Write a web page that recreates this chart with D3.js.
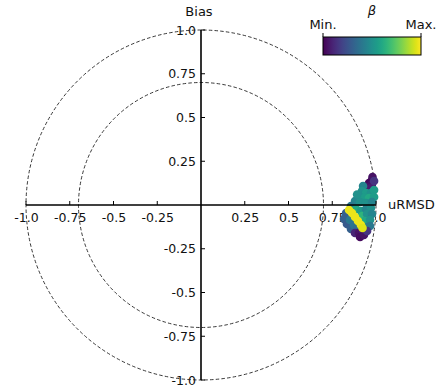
<!DOCTYPE html>
<html>
<head>
<meta charset="utf-8">
<script src="https://cdn.jsdelivr.net/npm/d3@7"></script>
<style>
  html, body { margin: 0; padding: 0; background: #fff; }
  svg { display: block; font-family: "DejaVu Sans", sans-serif; }
</style>
</head>
<body>
<svg id="chart" width="440" height="390"></svg>
<script>
// Target diagram: unbiased RMSD (x) against bias (y), coloured by beta
const xTicks = [-1.0, -0.75, -0.5, -0.25, 0.25, 0.5, 0.75, 1.0];
const yTicks = [-1.0, -0.75, -0.5, -0.25, 0.25, 0.5, 0.75, 1.0];
const xTickLabels = ["-1.0", "-0.75", "-0.5", "-0.25", "0.25", "0.5", "0.75", "1.0"];
const yTickLabels = ["-1.0", "-0.75", "-0.5", "-0.25", "0.25", "0.5", "0.75", "1.0"];
const rings = [1.0, 0.7];
const colorbarLabels = ["Min.", "Max."];

// One entry per model run: normalised uRMSD, normalised bias, beta (0 = min, 1 = max)
const uRMSD = [
  0.980, 0.977, 0.960, 0.977, 0.949, 0.971, 0.989,
  0.926, 0.920, 0.943, 0.971, 0.989, 0.903, 0.931, 0.960, 0.989,
  0.880, 0.909, 0.943, 0.977, 0.857, 0.892,
  0.829, 0.817, 0.834, 0.857,
  0.886, 0.914, 0.943, 0.971, 0.920, 0.949, 0.977, 0.937, 0.966, 0.943, 0.966,
  0.851, 0.874, 0.891,
  0.880, 0.903, 0.926, 0.909, 0.931, 0.949,
  0.846, 0.863, 0.880, 0.897, 0.914, 0.923
];
const bias = [
  0.160, 0.143, 0.126, 0.120, 0.103, 0.097, 0.137,
  0.109, 0.080, 0.069, 0.069, 0.086, 0.051, 0.040, 0.040, 0.046,
  0.023, 0.017, 0.011, 0.017, -0.006, 0.060,
  -0.046, -0.080, -0.109, -0.137,
  -0.023, -0.034, -0.023, -0.017, -0.063, -0.051, -0.051, -0.091, -0.086, -0.126, -0.120,
  -0.086, -0.114, -0.137,
  -0.160, -0.160, -0.149, -0.183, -0.171, -0.149,
  -0.029, -0.046, -0.069, -0.091, -0.114, -0.131
];
const beta = [
  0.05, 0.05, 0.02, 0.05, 0.05, 0.08, 0.15,
  0.45, 0.50, 0.55, 0.50, 0.55, 0.50, 0.55, 0.60, 0.55,
  0.45, 0.50, 0.50, 0.45, 0.40, 0.50,
  0.30, 0.30, 0.28, 0.30,
  0.60, 0.55, 0.45, 0.50, 0.65, 0.50, 0.45, 0.60, 0.50, 0.45, 0.40,
  0.40, 0.38, 0.35,
  0.10, 0.05, 0.10, 0.03, 0.05, 0.15,
  0.97, 0.97, 0.97, 0.97, 0.97, 0.95
];

const svg = d3.select("#chart");
const cx = 201, cy = 205, R = 175;

const x = d3.scaleLinear().domain([-1, 1]).range([cx - R, cx + R]);
const y = d3.scaleLinear().domain([-1, 1]).range([cy + R, cy - R]);
const rScale = d3.scaleLinear().domain([0, 1]).range([0, R]);
const color = d3.scaleSequential(d3.interpolateViridis).domain([0, 1]);

const tickFont = "12.5px";

// tick labels (drawn first so the dashed rings pass over them)
const xAxis = svg.append("g").attr("transform", `translate(0,${cy})`)
  .call(d3.axisBottom(x).tickValues(xTicks)
    .tickFormat((d, i) => xTickLabels[i]).tickSize(0).tickPadding(8));
xAxis.select(".domain").remove();
xAxis.selectAll("text").attr("font-size", tickFont).attr("fill", "#111")
  .attr("font-family", "DejaVu Sans, sans-serif");

const yAxis = svg.append("g").attr("transform", `translate(${cx},0)`)
  .call(d3.axisLeft(y).tickValues(yTicks)
    .tickFormat((d, i) => yTickLabels[i]).tickSize(0).tickPadding(5));
yAxis.select(".domain").remove();
yAxis.selectAll("text").attr("font-size", tickFont).attr("fill", "#111")
  .attr("font-family", "DejaVu Sans, sans-serif");

// reference rings
svg.append("g").selectAll("circle").data(rings).join("circle")
  .attr("cx", x(0)).attr("cy", y(0)).attr("r", d => rScale(d))
  .attr("fill", "none").attr("stroke", "#222").attr("stroke-width", 0.9)
  .attr("stroke-dasharray", "3.5,2.2");

// scatter points
const idx = d3.range(uRMSD.length);
svg.append("g").selectAll("circle").data(idx).join("circle")
  .attr("cx", i => x(uRMSD[i])).attr("cy", i => y(bias[i]))
  .attr("r", 4.3)
  .attr("fill", i => color(beta[i]));

// axis lines with inward ticks
svg.append("line").attr("x1", x(-1)).attr("x2", x(1)).attr("y1", y(0)).attr("y2", y(0))
  .attr("stroke", "#000").attr("stroke-width", 1.6);
svg.append("line").attr("x1", x(0)).attr("x2", x(0)).attr("y1", y(-1)).attr("y2", y(1))
  .attr("stroke", "#000").attr("stroke-width", 1.6);
svg.append("g").selectAll("line").data(xTicks).join("line")
  .attr("x1", d => x(d)).attr("x2", d => x(d)).attr("y1", cy).attr("y2", cy - 4)
  .attr("stroke", "#000").attr("stroke-width", 1);
svg.append("g").selectAll("line").data(yTicks).join("line")
  .attr("x1", cx).attr("x2", cx + 4).attr("y1", d => y(d)).attr("y2", d => y(d))
  .attr("stroke", "#000").attr("stroke-width", 1);

// axis titles
svg.append("text").attr("x", x(0) - 2).attr("y", 16).attr("text-anchor", "middle")
  .attr("font-size", "13px").attr("fill", "#111").text("Bias");
svg.append("text").attr("x", 388).attr("y", 209).attr("text-anchor", "start")
  .attr("font-size", "13px").attr("fill", "#111").text("uRMSD");

// colour bar
const cbX = 323, cbW = 98, cbY = 37, cbH = 18;
const defs = svg.append("defs");
const grad = defs.append("linearGradient").attr("id", "viridis")
  .attr("x1", "0%").attr("x2", "100%").attr("y1", "0%").attr("y2", "0%");
d3.range(0, 1.0001, 0.05).forEach(t => {
  grad.append("stop").attr("offset", `${t * 100}%`).attr("stop-color", color(t));
});
const cb = d3.scaleLinear().domain([0, 1]).range([cbX, cbX + cbW]);
svg.append("rect").attr("x", cbX).attr("y", cbY).attr("width", cbW).attr("height", cbH)
  .attr("fill", "url(#viridis)").attr("stroke", "#000").attr("stroke-width", 1);
svg.append("g").selectAll("line").data([0, 1]).join("line")
  .attr("x1", d => cb(d)).attr("x2", d => cb(d)).attr("y1", cbY).attr("y2", cbY - 4)
  .attr("stroke", "#000").attr("stroke-width", 1);
svg.append("g").selectAll("text").data([0, 1]).join("text")
  .attr("x", d => cb(d)).attr("y", cbY - 8).attr("text-anchor", "middle")
  .attr("font-size", "13px").attr("fill", "#111").text((d, i) => colorbarLabels[i]);
svg.append("text").attr("x", cb(0.5)).attr("y", 15).attr("text-anchor", "middle")
  .attr("font-size", "13px").attr("font-style", "italic").attr("fill", "#111").text("β");
</script>
</body>
</html>
